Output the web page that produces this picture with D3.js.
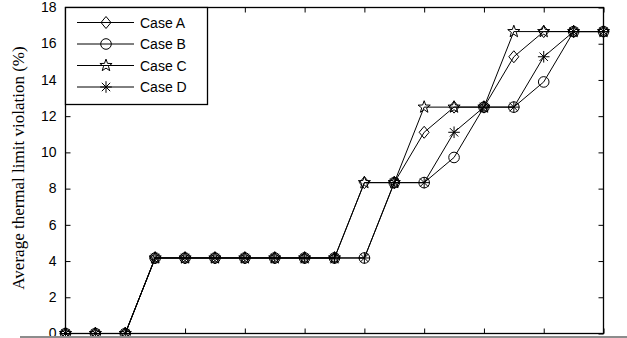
<!DOCTYPE html>
<html>
<head>
<meta charset="utf-8">
<script src="https://cdn.jsdelivr.net/npm/d3@7"></script>
<style>
  html, body { margin: 0; padding: 0; background: #fff; }
  svg { display: block; }
  text { fill: #000; }
</style>
</head>
<body>
<svg id="chart" width="627" height="338"></svg>
<script>
// Scenario index along the horizontal axis (unlabelled)
const steps = d3.range(0, 19);
const xTicks = [0, 2, 4, 6, 8, 10, 12, 14, 16, 18];
const yTicks = [0, 2, 4, 6, 8, 10, 12, 14, 16, 18];

// Average thermal limit violation (%) per case
const caseA = [0, 0, 0, 4.17, 4.17, 4.17, 4.17, 4.17, 4.17, 4.17, 8.33, 8.33, 11.11, 12.5, 12.5, 15.28, 16.67, 16.67, 16.67];
const caseB = [0, 0, 0, 4.17, 4.17, 4.17, 4.17, 4.17, 4.17, 4.17, 4.17, 8.33, 8.33, 9.72, 12.5, 12.5, 13.89, 16.67, 16.67];
const caseC = [0, 0, 0, 4.17, 4.17, 4.17, 4.17, 4.17, 4.17, 4.17, 8.33, 8.33, 12.5, 12.5, 12.5, 16.67, 16.67, 16.67, 16.67];
const caseD = [0, 0, 0, 4.17, 4.17, 4.17, 4.17, 4.17, 4.17, 4.17, 4.17, 8.33, 8.33, 11.11, 12.5, 12.5, 15.28, 16.67, 16.67];

const seriesNames = ["Case A", "Case B", "Case C", "Case D"];
const seriesValues = [caseA, caseB, caseC, caseD];
const seriesMarkers = ["diamond", "circle", "star", "asterisk"];

const svg = d3.select("#chart");
const plotLeft = 65.5, plotRight = 603.5, plotTop = 7.5, plotBottom = 333.5;

const x = d3.scaleLinear().domain([0, 18]).range([plotLeft, plotRight]);
const y = d3.scaleLinear().domain([0, 18]).range([plotBottom, plotTop]);

// Marker shapes (open, black outline)
function markerPath(kind) {
  const p = d3.path();
  if (kind === "diamond") {
    p.moveTo(0, -6); p.lineTo(5, 0); p.lineTo(0, 6); p.lineTo(-5, 0); p.closePath();
  } else if (kind === "circle") {
    p.moveTo(5.3, 0); p.arc(0, 0, 5.3, 0, 2 * Math.PI);
  } else if (kind === "star") {
    const ro = 6.4, ri = 2.6;
    for (let i = 0; i < 10; i++) {
      const r = i % 2 === 0 ? ro : ri;
      const a = -Math.PI / 2 + i * Math.PI / 5;
      const px = r * Math.cos(a), py = r * Math.sin(a);
      if (i === 0) p.moveTo(px, py); else p.lineTo(px, py);
    }
    p.closePath();
  } else if (kind === "asterisk") {
    const r = 5.8, d = 4.2;
    p.moveTo(0, -r); p.lineTo(0, r);
    p.moveTo(-r, 0); p.lineTo(r, 0);
    p.moveTo(-d, -d); p.lineTo(d, d);
    p.moveTo(-d, d); p.lineTo(d, -d);
  }
  return p.toString();
}

// Axes box with inward ticks (left labelled, other sides mirrored)
const axisG = svg.append("g");
const yLeft = axisG.append("g").attr("transform", `translate(${plotLeft},0)`)
  .call(d3.axisLeft(y).tickValues(yTicks).tickSize(-5).tickPadding(9).tickFormat(d3.format("d")));
axisG.append("g").attr("transform", `translate(${plotRight},0)`)
  .call(d3.axisRight(y).tickValues(yTicks).tickSize(-5).tickFormat(""));
axisG.append("g").attr("transform", `translate(0,${plotBottom})`)
  .call(d3.axisBottom(x).tickValues(xTicks).tickSize(-5).tickFormat(""));
axisG.append("g").attr("transform", `translate(0,${plotTop})`)
  .call(d3.axisTop(x).tickValues(xTicks).tickSize(-5).tickFormat(""));

axisG.selectAll(".domain").remove();
axisG.selectAll(".tick line").attr("stroke", "#000").attr("stroke-width", 1);
yLeft.selectAll(".tick text")
  .attr("font-family", "Liberation Sans, Arial, sans-serif")
  .attr("font-size", 14).attr("fill", "#000")
  .attr("dy", "0.3em");
axisG.append("rect")
  .attr("x", plotLeft).attr("y", plotTop)
  .attr("width", plotRight - plotLeft).attr("height", plotBottom - plotTop)
  .attr("fill", "none").attr("stroke", "#000").attr("stroke-width", 1.3);

// Y-axis title
svg.append("text")
  .attr("transform", `translate(24,168) rotate(-90)`)
  .attr("text-anchor", "middle")
  .attr("font-family", "Liberation Serif, Times New Roman, serif")
  .attr("font-size", 17)
  .text("Average thermal limit violation (%)");

// Series lines and markers
const line = d3.line().x((d, i) => x(steps[i])).y(d => y(d));
const plot = svg.append("g");
seriesValues.forEach(vals => {
  plot.append("path")
    .attr("d", line(vals))
    .attr("fill", "none").attr("stroke", "#000").attr("stroke-width", 1);
});
seriesValues.forEach((vals, k) => {
  plot.append("g").selectAll("path")
    .data(vals)
    .join("path")
    .attr("transform", (d, i) => `translate(${x(steps[i])},${y(d)})`)
    .attr("d", markerPath(seriesMarkers[k]))
    .attr("fill", "none").attr("stroke", "#000").attr("stroke-width", 1);
});

// Legend
const legend = svg.append("g");
legend.append("rect")
  .attr("x", plotLeft).attr("y", plotTop).attr("width", 142).attr("height", 97)
  .attr("fill", "#fff").attr("stroke", "#000").attr("stroke-width", 1.3);
const legendY = [22.5, 44, 65.5, 87];
seriesNames.forEach((name, k) => {
  const g = legend.append("g").attr("transform", `translate(0,${legendY[k]})`);
  g.append("line").attr("x1", 77).attr("x2", 134).attr("y1", 0).attr("y2", 0)
    .attr("stroke", "#000").attr("stroke-width", 1);
  g.append("path").attr("transform", "translate(106,0)")
    .attr("d", markerPath(seriesMarkers[k]))
    .attr("fill", "none").attr("stroke", "#000").attr("stroke-width", 1);
  g.append("text").attr("x", 140).attr("y", 5)
    .attr("font-family", "Liberation Sans, Arial, sans-serif")
    .attr("font-size", 14)
    .text(name);
});

// Grey rule along the bottom edge of the figure
svg.append("line")
  .attr("x1", 20).attr("x2", 627).attr("y1", 337).attr("y2", 337)
  .attr("stroke", "#8c8c8c").attr("stroke-width", 2);
</script>
</body>
</html>
